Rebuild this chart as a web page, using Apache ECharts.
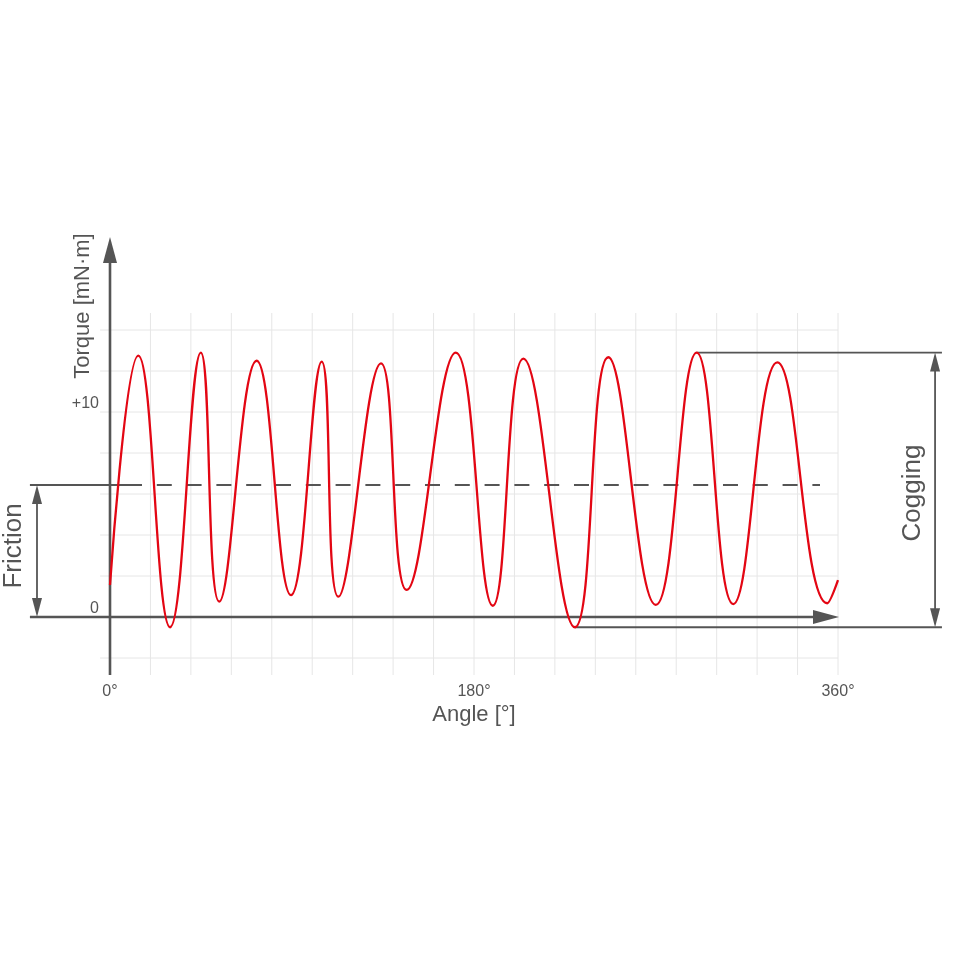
<!DOCTYPE html>
<html><head><meta charset="utf-8">
<script src="https://cdn.jsdelivr.net/npm/echarts@6/dist/echarts.min.js"></script>
<style>html,body{margin:0;padding:0;background:#fff}#c{width:960px;height:960px}</style>
</head><body><div id="c"></div>
<script>
// ---- data (turning points of the torque curve) ----
const angles = [0, 14.0, 29.7, 44.9, 54.0, 72.5, 89.5, 104.7, 112.9, 134.0, 146.7, 171.0, 189.3, 204.4, 229.9, 246.4, 269.9, 290.1, 308.2, 330.0, 354.7, 360];
const torque = [1.56, 12.75, -0.5, 12.9, 0.75, 12.5, 1.07, 12.46, 0.99, 12.37, 1.32, 12.9, 0.55, 12.6, -0.5, 12.67, 0.59, 12.9, 0.63, 12.42, 0.67, 1.8];
const xTickValues = [0, 180, 360];
const xTickLabels = ['0°', '180°', '360°'];
const yTickValues = [0, 10];
const yTickLabels = ['0', '+10'];
const gridAngles = [20, 40, 60, 80, 100, 120, 140, 160, 180, 200, 220, 240, 260, 280, 300, 320, 340, 360];
const gridLevels = [-2, 2, 4, 6, 8, 10, 12, 14];
const gridAngleRange = [-4.9, 360];
const gridLevelRange = [-2.83, 14.83];
const frictionLevel = 6.44;
const frictionAngle = -36.1;
const frictionLineRange = [-39.6, 15.3];
const frictionDashRange = [8.4, 351.1];
const coggingAngle = 408;
const coggingLineEnd = 411.4;
const axisYRange = [-2.83, 18.54];
const axisXRange = [-39.6, 360.5];

// ---- derived ----
const curve = angles.map((a, i) => [a, torque[i]]);
const coggingMax = Math.max(...torque);
const coggingMin = Math.min(...torque);
const coggingMaxAngle = angles[torque.lastIndexOf(coggingMax)];
const coggingMinAngle = angles[torque.lastIndexOf(coggingMin)];

const GRAY = '#555555';
const FONT = '"Liberation Sans", Arial, sans-serif';

const gridSegs = gridAngles.map(a => [a, gridLevelRange[0], a, gridLevelRange[1]])
  .concat(gridLevels.map(l => [gridAngleRange[0], l, gridAngleRange[1], l]));
const solidSegs = [
  [frictionLineRange[0], frictionLevel, frictionLineRange[1], frictionLevel],
  [coggingMaxAngle, coggingMax, coggingLineEnd, coggingMax],
  [coggingMinAngle, coggingMin, coggingLineEnd, coggingMin]
];
const dashSegs = [[frictionDashRange[0], frictionLevel, frictionDashRange[1], frictionLevel]];
const axisArrows = [
  [0, axisYRange[0], 0, axisYRange[1], 1],
  [axisXRange[0], 0, axisXRange[1], 0, 1]
];
const dimArrows = [
  [frictionAngle, 0, frictionAngle, frictionLevel, 2],
  [coggingAngle, coggingMin, coggingAngle, coggingMax, 2]
];

function segRender(color, lw, dash) {
  return function (params, api) {
    const a = api.coord([api.value(0), api.value(1)]);
    const b = api.coord([api.value(2), api.value(3)]);
    return { type: 'line', shape: { x1: a[0], y1: a[1], x2: b[0], y2: b[1] },
      style: { stroke: color, lineWidth: lw, lineDash: dash || null } };
  };
}
function arrowRender(L, W, lw) {
  return function (params, api) {
    const a = api.coord([api.value(0), api.value(1)]);
    const b = api.coord([api.value(2), api.value(3)]);
    const both = api.value(4) === 2;
    const dx = b[0] - a[0], dy = b[1] - a[1], len = Math.hypot(dx, dy);
    const ux = dx / len, uy = dy / len, nx = -uy, ny = ux;
    const head = (tip, dirx, diry) => {
      const bx = tip[0] - dirx * L, by = tip[1] - diry * L;
      return { type: 'polygon', shape: { points: [[tip[0], tip[1]], [bx + nx * W / 2, by + ny * W / 2], [bx - nx * W / 2, by - ny * W / 2]] },
        style: { fill: GRAY } };
    };
    const children = [head(b, ux, uy)];
    let s = a, e = [b[0] - ux * L * 0.8, b[1] - uy * L * 0.8];
    if (both) { children.push(head(a, -ux, -uy)); s = [a[0] + ux * L * 0.8, a[1] + uy * L * 0.8]; }
    children.unshift({ type: 'line', shape: { x1: s[0], y1: s[1], x2: e[0], y2: e[1] }, style: { stroke: GRAY, lineWidth: lw } });
    return { type: 'group', children };
  };
}

const chart = echarts.init(document.getElementById('c'), null, { renderer: 'canvas' });
chart.setOption({
  animation: false,
  backgroundColor: '#ffffff',
  grid: { left: 0.8, right: 12.8, top: 227.5, bottom: 279.45, containLabel: false },
  xAxis: {
    type: 'value', min: -54, max: 414,
    axisLine: { show: false }, axisTick: { show: false }, splitLine: { show: false },
    axisLabel: { customValues: xTickValues, formatter: v => xTickLabels[xTickValues.indexOf(v)],
      fontSize: 16, color: GRAY, margin: 3, fontFamily: FONT },
    name: 'Angle [°]', nameLocation: 'middle', nameGap: 23,
    nameTextStyle: { fontSize: 22, color: GRAY, fontFamily: FONT }
  },
  yAxis: {
    type: 'value', min: -3.1, max: 19, position: 'left', offset: -109.2,
    axisLine: { show: false }, axisTick: { show: false }, splitLine: { show: false },
    axisLabel: { customValues: yTickValues, formatter: v => yTickLabels[yTickValues.indexOf(v)],
      fontSize: 16, color: GRAY, margin: 11, verticalAlign: 'bottom', fontFamily: FONT }
  },
  graphic: [
    { type: 'text', x: 83, y: 306, rotation: Math.PI / 2,
      style: { text: 'Torque [mN·m]', fontSize: 22, fill: GRAY, fontFamily: FONT, align: 'center', verticalAlign: 'middle' } },
    { type: 'text', x: 14, y: 546, rotation: Math.PI / 2,
      style: { text: 'Friction', fontSize: 26, fill: GRAY, fontFamily: FONT, align: 'center', verticalAlign: 'middle' } },
    { type: 'text', x: 913, y: 493, rotation: Math.PI / 2,
      style: { text: 'Cogging', fontSize: 26, fill: GRAY, fontFamily: FONT, align: 'center', verticalAlign: 'middle' } }
  ],
  series: [
    { type: 'custom', name: 'grid', z: 1, silent: true, data: gridSegs, renderItem: segRender('#e6e6e6', 1) },
    { type: 'custom', name: 'dash', z: 2, silent: true, data: dashSegs, renderItem: segRender(GRAY, 1.8, [15, 14.8]) },
    { type: 'custom', name: 'levels', z: 2, silent: true, data: solidSegs, renderItem: segRender(GRAY, 1.8) },
    { type: 'custom', name: 'axes', z: 3, silent: true, data: axisArrows, renderItem: arrowRender(26, 14, 2.6) },
    { type: 'custom', name: 'dims', z: 3, silent: true, data: dimArrows, renderItem: arrowRender(19, 10, 1.8) },
    { type: 'line', name: 'Torque', z: 5, data: curve, smooth: 0.45, showSymbol: false,
      lineStyle: { color: '#e30613', width: 2.3 } }
  ]
});
</script></body></html>
